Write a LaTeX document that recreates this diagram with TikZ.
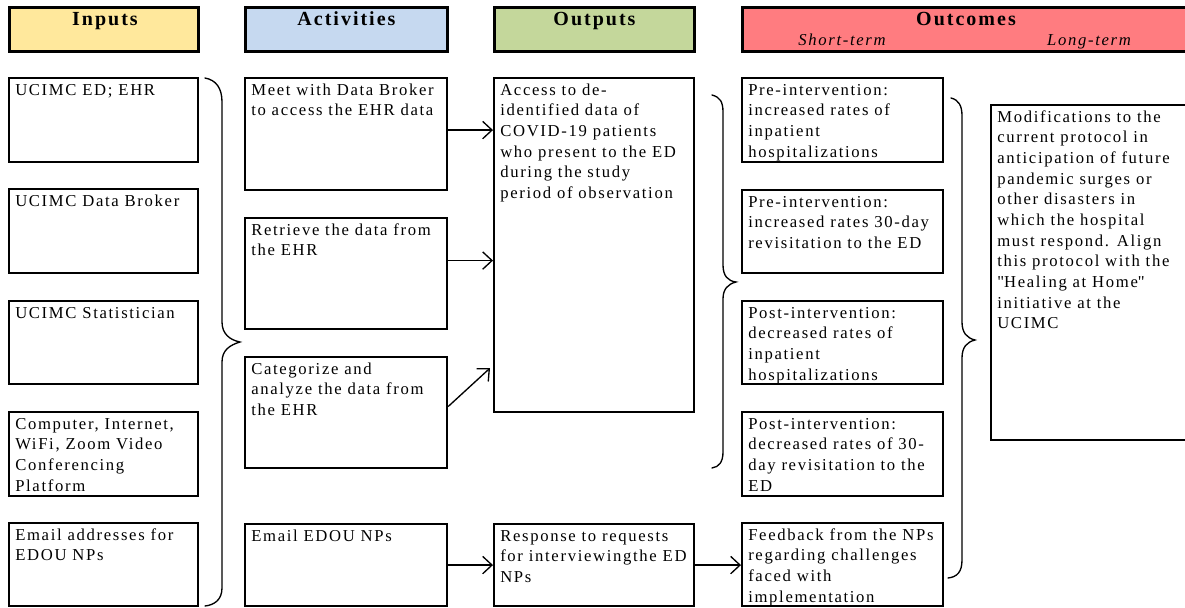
\documentclass[tikz,border=0pt]{standalone}
\usepackage{fontspec}
\setmainfont{Liberation Serif}[LetterSpace=10]
\newfontfamily\qfont{Liberation Serif}[LetterSpace=10]
\usetikzlibrary{arrows.meta,calc}
\definecolor{cin}{HTML}{FFE89C}
\definecolor{cact}{HTML}{C6D9F0}
\definecolor{cout}{HTML}{C4D79B}
\definecolor{coc}{HTML}{FF7C80}
\tikzset{
 hdr/.style={draw, line width=2.2pt, anchor=north west, inner sep=0pt},
 bx/.style={draw, line width=1.6pt, anchor=north west, inner sep=0pt},
 txt/.style={anchor=base west, inner sep=0pt, font=\fontsize{12.5}{15.5}\selectfont},
 htxt/.style={anchor=base, inner sep=0pt, font=\fontsize{15}{17}\selectfont\bfseries},
 itxt/.style={anchor=base, inner sep=0pt, font=\fontsize{12.5}{15.5}\selectfont\itshape},
 arr/.style={line width=1pt, -{Straight Barb[length=7pt,width=13pt,line width=1pt]}},
 brc/.style={line width=1pt, line cap=round},
}
\newcommand\mybox[6]{%
 \node[bx, minimum width={(#4-#2)*0.75pt}, minimum height={(#5-#3)*0.75pt}] (#1) at (#2,#3) {};
 \node[txt] (#1t) at ($(#1.north west)+(7,18)$) {\parbox[t]{220pt}{\raggedright #6}};
}
\newcommand\myhdr[6]{%
 \node[hdr, fill=#6, minimum width={(#4-#2)*0.75pt}, minimum height={(#5-#3)*0.75pt}] (#1) at (#2,#3) {};
}
\begin{document}
\begin{tikzpicture}[x=0.75pt,y=-0.75pt]
\useasboundingbox (0,0) rectangle (1185,607);
% headers
\myhdr{Hin}{8}{6}{197}{50}{cin}
\myhdr{Hact}{244}{6}{446}{50}{cact}
\myhdr{Hout}{493}{6}{693}{50}{cout}
\myhdr{Hoc}{741}{6}{1188}{50}{coc}
\node[htxt] (Hint) at ($(Hin.north)+(1,19)$) {Inputs};
\node[htxt] (Hactt) at ($(Hact.north)+(0,19)$) {Activities};
\node[htxt] (Houtt) at ($(Hout.north)+(0,19)$) {Outputs};
\node[htxt] (Hoct) at (966,25) {Outcomes};
\node[itxt] (Hst) at (842,45) {Short-term};
\node[itxt] (Hlt) at (1089,45) {Long-term};
% inputs
\mybox{I1}{8}{77}{197}{161}{UCIMC ED; EHR}
\mybox{I2}{8}{188}{197}{272}{UCIMC Data Broker}
\mybox{I3}{8}{300}{197}{383}{UCIMC Statistician}
\mybox{I4}{8}{411}{197}{495}{Computer, Internet,\\ WiFi, Zoom Video\\ Conferencing\\ Platform}
\mybox{I5}{8}{522}{197}{605}{Email addresses for\\ EDOU NPs}
% activities
\mybox{A1}{244}{77}{446}{189}{Meet with Data Broker\\ to access the EHR data}
\mybox{A2}{244}{217}{446}{328}{Retrieve the data from\\ the EHR}
\mybox{A3}{244}{356}{446}{467}{Categorize and\\ analyze the data from\\ the EHR}
\mybox{A4}{244}{523}{446}{605}{Email EDOU NPs}
% outputs
\mybox{O1}{493}{77}{693}{411}{Access to de-\\ identified data of\\ COVID-19 patients\\ who present to the ED\\ during the study\\ period of observation}
\mybox{O2}{493}{523}{693}{605}{Response to requests\\ for interviewingthe ED\\ NPs}
% short-term
\mybox{S1}{741}{77}{942}{161}{Pre-intervention:\\ increased rates of\\ inpatient\\ hospitalizations}
\mybox{S2}{741}{189}{942}{272}{Pre-intervention:\\ increased rates 30-day\\ revisitation to the ED}
\mybox{S3}{741}{300}{942}{383}{Post-intervention:\\ decreased rates of\\ inpatient\\ hospitalizations}
\mybox{S4}{741}{411}{942}{495}{Post-intervention:\\ decreased rates of 30-\\ day revisitation to the\\ ED}
\mybox{S5}{741}{522}{942}{605}{Feedback from the NPs\\ regarding challenges\\ faced with\\ implementation}
% long-term
\mybox{L}{990}{104}{1188}{439}{Modifications to the\\ current protocol in\\ anticipation of future\\ pandemic surges or\\ other disasters in\\ which the hospital\\ must respond. Align\\ this protocol with the\\ {\qfont"}Healing at Home{\qfont"}\\ initiative at the\\ UCIMC}
% braces
\draw[brc] (205,78) .. controls (216,80) and (222,88) .. (222,102) -- (222,322) .. controls (222,334) and (230,340) .. (240,342) .. controls (230,345) and (222,350) .. (222,362) -- (222,588) .. controls (222,600) and (214,605) .. (205,606);
\draw[brc] (712,95) .. controls (720,97) and (723,102) .. (723,112) -- (723,265) .. controls (723,276) and (728,281) .. (736,282) .. controls (728,284) and (723,289) .. (723,299) -- (723,452) .. controls (723,462) and (719,467) .. (712,468);
\draw[brc] (951,98) .. controls (959,100) and (962,106) .. (962,116) -- (962,322) .. controls (962,333) and (967,338) .. (975,340) .. controls (967,342) and (962,347) .. (962,358) -- (962,560) .. controls (962,572) and (957,577) .. (948,578);
% arrows
\coordinate (p1) at ($(A1.east)+(0,-4)$);
\draw[arr] (p1) -- (p1 -| O1.west);
\coordinate (p2) at ($(A2.east)+(0,-13)$);
\draw[arr] (p2) -- (p2 -| O1.west);
\coordinate (p3) at ($(A3.east)+(0,-6)$);
\coordinate (q3) at ($(O1.south west)+(-3,-45)$);
\draw[arr] (p3) -- (q3);
\draw[arr] (A4.east) -- (A4.east -| O2.west);
\draw[arr] (O2.east) -- (O2.east -| S5.west);
\end{tikzpicture}
\end{document}
